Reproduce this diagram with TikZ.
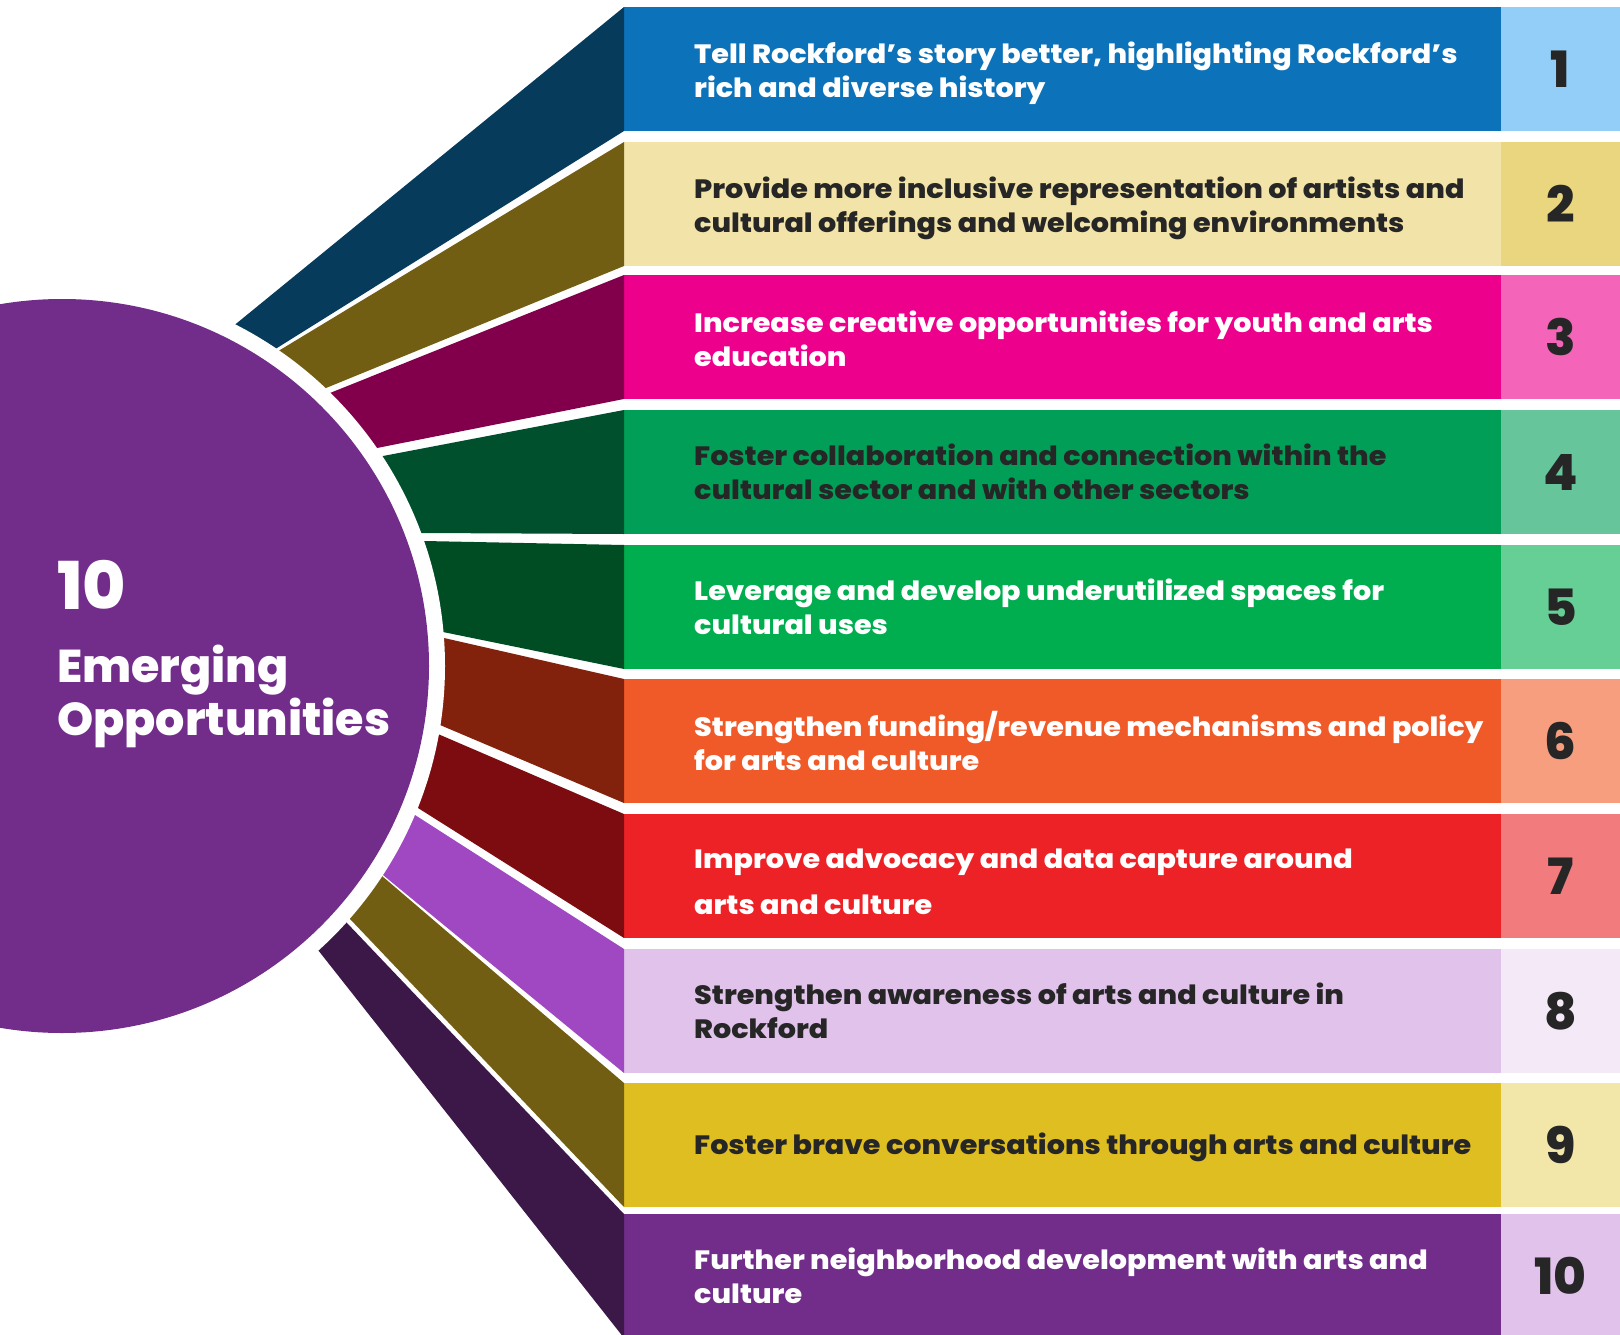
\documentclass[tikz,border=0pt]{standalone}
\usepackage{fontspec}
\setmainfont{Poppins}[BoldFont={Poppins ExtraBold}]
\newfontfamily\barfont{Poppins}[BoldFont={Poppins ExtraBold}, FakeStretch=1.08]
\usetikzlibrary{positioning,calc}

\definecolor{ink}{HTML}{262626}
\definecolor{hubc}{HTML}{722D8B}
% bars
\definecolor{bara}{HTML}{0C72B9}
\definecolor{barb}{HTML}{F2E3A8}
\definecolor{barc}{HTML}{EC008C}
\definecolor{bard}{HTML}{009E57}
\definecolor{bare}{HTML}{00AE4F}
\definecolor{barf}{HTML}{F05A28}
\definecolor{barg}{HTML}{ED2227}
\definecolor{barh}{HTML}{E0C2EA}
\definecolor{bari}{HTML}{DFBE22}
\definecolor{barj}{HTML}{722D8B}
% number boxes
\definecolor{numa}{HTML}{92CEF7}
\definecolor{numb}{HTML}{E9D67E}
\definecolor{numc}{HTML}{F465B9}
\definecolor{numd}{HTML}{66C59A}
\definecolor{nume}{HTML}{66CF95}
\definecolor{numf}{HTML}{F69E7E}
\definecolor{numg}{HTML}{F27B7D}
\definecolor{numh}{HTML}{F4EAF7}
\definecolor{numi}{HTML}{F2E6A9}
\definecolor{numj}{HTML}{E0C2EA}
% fan
\definecolor{fana}{HTML}{073B5C}
\definecolor{fanb}{HTML}{715E12}
\definecolor{fanc}{HTML}{82004B}
\definecolor{fand}{HTML}{004F2D}
\definecolor{fane}{HTML}{004D23}
\definecolor{fanf}{HTML}{83220C}
\definecolor{fang}{HTML}{7C0C0F}
\definecolor{fanh}{HTML}{A048C2}
\definecolor{fani}{HTML}{715E12}
\definecolor{fanj}{HTML}{3C1848}

\tikzset{
	bar/.style={anchor=north west, minimum width=877pt, minimum height=124pt, inner sep=0pt, outer sep=0pt},
	numbox/.style={minimum width=119pt, minimum height=124pt, inner sep=0pt, outer sep=0pt, text=ink, font=\fontsize{50}{50}\selectfont\bfseries},
	lbl/.style={align=left, inner sep=0pt, font=\barfont\fontsize{26.5}{34}\selectfont\bfseries},
}

\begin{document}
\begin{tikzpicture}[x=1pt,y=-1pt]
		\useasboundingbox (0,0) rectangle (1620,1335);
		\coordinate (c) at (62,666);
		
		\node[bar, fill=bara] (bar1) at (624,7) {};
		\node[bar, fill=barb] (bar2) at (624,142) {};
		\node[bar, fill=barc] (bar3) at (624,275) {};
		\node[bar, fill=bard] (bar4) at (624,410) {};
		\node[bar, fill=bare] (bar5) at (624,545) {};
		\node[bar, fill=barf] (bar6) at (624,679) {};
		\node[bar, fill=barg] (bar7) at (624,814) {};
		\node[bar, fill=barh] (bar8) at (624,949) {};
		\node[bar, fill=bari] (bar9) at (624,1083) {};
		\node[bar, fill=barj] (bar10) at (624,1214) {};
		
		\node[numbox, fill=numa, right=0pt of bar1] (num1) {1};
		\node[numbox, fill=numb, right=0pt of bar2] (num2) {2};
		\node[numbox, fill=numc, right=0pt of bar3] (num3) {3};
		\node[numbox, fill=numd, right=0pt of bar4] (num4) {4};
		\node[numbox, fill=nume, right=0pt of bar5] (num5) {5};
		\node[numbox, fill=numf, right=0pt of bar6] (num6) {6};
		\node[numbox, fill=numg, right=0pt of bar7] (num7) {7};
		\node[numbox, fill=numh, right=0pt of bar8] (num8) {8};
		\node[numbox, fill=numi, right=0pt of bar9] (num9) {9};
		\node[numbox, fill=numj, right=0pt of bar10] (num10) {10};
		
		\node[lbl, text=white, right=70pt of bar1.west, yshift=-4pt] (lbl1) {Tell Rockford’s story better, highlighting Rockford’s\\rich and diverse history};
		\node[lbl, text=ink, right=70pt of bar2.west, yshift=-4pt] (lbl2) {Provide more inclusive representation of artists and\\cultural offerings and welcoming environments};
		\node[lbl, text=white, right=70pt of bar3.west, yshift=-2pt] (lbl3) {Increase creative opportunities for youth and arts\\education};
		\node[lbl, text=ink, right=70pt of bar4.west] (lbl4) {Foster collaboration and connection within the\\cultural sector and with other sectors};
		\node[lbl, text=white, right=70pt of bar5.west] (lbl5) {Leverage and develop underutilized spaces for\\cultural uses};
		\node[lbl, text=white, right=70pt of bar6.west] (lbl6) {Strengthen funding/revenue mechanisms and policy\\for arts and culture};
		\node[lbl, text=white, right=70pt of bar7.west, yshift=-6pt] (lbl7) {Improve advocacy and data capture around\\[12pt]arts and culture};
		\node[lbl, text=ink, right=70pt of bar8.west] (lbl8) {Strengthen awareness of arts and culture in\\Rockford};
		\node[lbl, text=ink, right=70pt of bar9.west, yshift=-2pt] (lbl9) {Foster brave conversations through arts and culture};
		\node[lbl, text=white, right=70pt of bar10.west] (lbl10) {Further neighborhood development with arts and\\culture};
		
		% where the fan meets the ring
		\coordinate (w1a) at (237,323); \coordinate (w1b) at (277,348);
		\coordinate (w2a) at (280,350); \coordinate (w2b) at (326,388);
		\coordinate (w3a) at (330,393); \coordinate (w3b) at (377,448);
		\coordinate (w4a) at (383,456); \coordinate (w4b) at (421,533);
		\coordinate (w5a) at (424,541); \coordinate (w5b) at (443,632);
		\coordinate (w6a) at (444,638); \coordinate (w6b) at (440,725);
		\coordinate (w7a) at (438,734); \coordinate (w7b) at (418,808);
		\coordinate (w8a) at (415,815); \coordinate (w8b) at (383,875);
		\coordinate (w9a) at (382,876); \coordinate (w9b) at (350,919);
		\coordinate (w10a) at (347,923); \coordinate (w10b) at (318,950);
		
		\fill[fana] ($(bar1.north west)!1.1!(w1a)$) -- (bar1.north west) -- (bar1.south west) -- ($(bar1.south west)!1.1!(w1b)$) -- cycle;
		\fill[fanb] ($(bar2.north west)!1.1!(w2a)$) -- (bar2.north west) -- (bar2.south west) -- ($(bar2.south west)!1.1!(w2b)$) -- cycle;
		\fill[fanc] ($(bar3.north west)!1.1!(w3a)$) -- (bar3.north west) -- (bar3.south west) -- ($(bar3.south west)!1.1!(w3b)$) -- cycle;
		\fill[fand] ($(bar4.north west)!1.1!(w4a)$) -- (bar4.north west) -- (bar4.south west) -- ($(bar4.south west)!1.1!(w4b)$) -- cycle;
		\fill[fane] ($(bar5.north west)!1.1!(w5a)$) -- (bar5.north west) -- (bar5.south west) -- ($(bar5.south west)!1.1!(w5b)$) -- cycle;
		\fill[fanf] ($(bar6.north west)!1.1!(w6a)$) -- (bar6.north west) -- (bar6.south west) -- ($(bar6.south west)!1.1!(w6b)$) -- cycle;
		\fill[fang] ($(bar7.north west)!1.1!(w7a)$) -- (bar7.north west) -- (bar7.south west) -- ($(bar7.south west)!1.1!(w7b)$) -- cycle;
		\fill[fanh] ($(bar8.north west)!1.1!(w8a)$) -- (bar8.north west) -- (bar8.south west) -- ($(bar8.south west)!1.1!(w8b)$) -- cycle;
		\fill[fani] ($(bar9.north west)!1.1!(w9a)$) -- (bar9.north west) -- (bar9.south west) -- ($(bar9.south west)!1.1!(w9b)$) -- cycle;
		\fill[fanj] ($(bar10.north west)!1.1!(w10a)$) -- (bar10.north west) -- (bar10.south west) -- ($(bar10.south west)!1.1!(w10b)$) -- cycle;
		
		\fill[white] (c) circle (383pt);
		\node[circle, fill=hubc, minimum size=734pt, inner sep=0pt] (hub) at (c) {};
		\node[anchor=base west, inner sep=0pt, text=white, font=\fontsize{66}{66}\selectfont\bfseries] (hubnum) at (57,609) {10};
		\node[anchor=base west, align=left, inner sep=0pt, text=white, font=\fontsize{46}{53}\selectfont\bfseries] (hubtxt) at (57,735) {Emerging\\Opportunities};
		
\end{tikzpicture}
\end{document}
